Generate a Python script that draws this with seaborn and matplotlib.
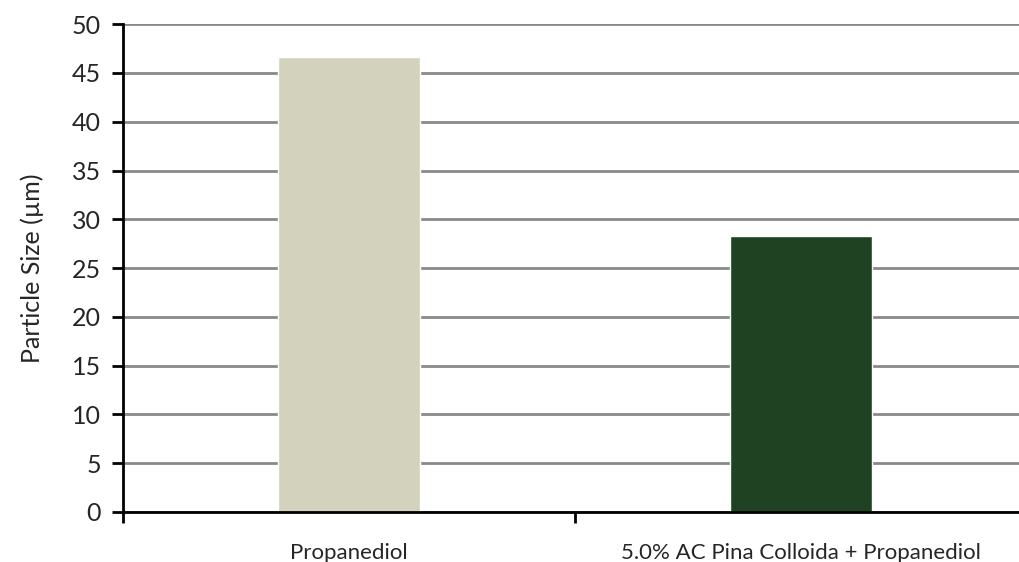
import matplotlib
matplotlib.use("Agg")
import matplotlib.pyplot as plt
import seaborn as sns
import pandas as pd
from matplotlib.ticker import FixedLocator, MultipleLocator

categories = ["Propanediol", "5.0% AC Pina Colloida + Propanediol"]
particle_size = [46.6, 28.3]
bar_colors = ["#d2d2bd", "#1e4222"]

df = pd.DataFrame({"sample": categories, "size": particle_size})

sns.set_style("white")
plt.rcParams["font.family"] = ["Lato", "DejaVu Sans"]

fig = plt.figure(figsize=(10.2, 5.62), dpi=100)
ax = fig.add_axes([0.1206, 0.089, 1.0 - 0.1206, 0.868])

sns.barplot(data=df, x="sample", y="size", hue="sample", palette=bar_colors,
            width=0.314, legend=False, ax=ax, zorder=3, saturation=1)

ax.set_ylim(0, 50)
ax.set_xlim(-0.5, 1.484)
ax.yaxis.set_major_locator(MultipleLocator(5))
ax.yaxis.grid(True, color="#8a8a8a", linewidth=2, zorder=0)
ax.set_axisbelow(True)

for side in ["top", "right"]:
    ax.spines[side].set_visible(False)
for side in ["left", "bottom"]:
    ax.spines[side].set_color("black")
    ax.spines[side].set_linewidth(2)
    ax.spines[side].set_zorder(4)

ax.tick_params(axis="y", which="major", direction="out", length=8, width=2,
               color="black", labelsize=18, pad=8, left=True)
ax.tick_params(axis="x", which="major", length=0, labelsize=16, pad=22)
ax.xaxis.set_minor_locator(FixedLocator([-0.5, 0.5]))
ax.tick_params(axis="x", which="minor", direction="out", length=8, width=2,
               color="black", bottom=True)

ax.set_xlabel("")
ax.set_ylabel("Particle Size (µm)", fontsize=18, labelpad=20)

fig.savefig("out.png", dpi=100)
